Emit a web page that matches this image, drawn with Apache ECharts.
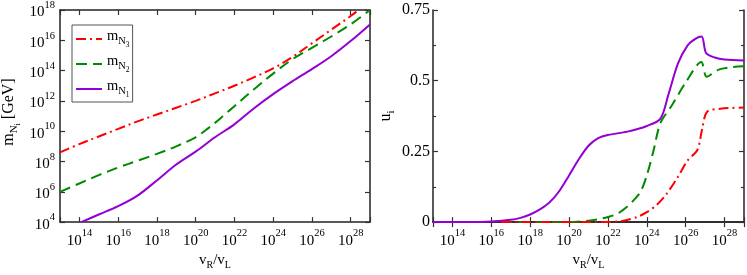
<!DOCTYPE html>
<html><head><meta charset="utf-8">
<script src="https://cdn.jsdelivr.net/npm/echarts@6/dist/echarts.min.js"></script>
<style>html,body{margin:0;padding:0;background:#fff}#c{width:747px;height:275px}</style>
</head><body><div id="c"></div>
<script>
// ---------- Left panel: log10(vR/vL) vs log10(m_Ni / GeV) ----------
const mN3_logx = [13, 14, 15, 16, 17, 18, 19, 20, 21, 22, 23, 24, 25, 26, 27, 28, 28.5];
const mN3_logm = [8.6, 9.15, 9.65, 10.15, 10.65, 11.1, 11.55, 12.0, 12.5, 13.0, 13.55, 14.15, 14.9, 15.8, 16.7, 17.6, 18.1];

const mN2_logx = [13, 14, 15, 16, 17, 18, 19, 20, 20.5, 21, 21.5, 22, 23, 24, 25, 26, 27, 28, 29];
const mN2_logm = [6.0, 6.55, 7.1, 7.6, 8.05, 8.5, 9.0, 9.6, 10.05, 10.55, 11.1, 11.65, 12.75, 13.8, 14.75, 15.5, 16.25, 17.05, 18.0];

const mN1_logx = [14.1, 15, 16, 17, 18, 19, 20, 21, 22, 23, 24, 25, 26, 27, 28, 29];
const mN1_logm = [4.0, 4.5, 5.05, 5.75, 6.75, 7.8, 8.65, 9.6, 10.45, 11.5, 12.45, 13.3, 14.1, 14.95, 15.95, 17.05];

// ---------- Right panel: log10(vR/vL) vs u_i ----------
const u1_logx = [13, 15, 16, 17, 17.5, 18, 18.5, 19, 19.5, 20, 20.5, 21, 21.5, 22, 23, 24, 24.7, 25.1, 25.6, 26.1, 26.5, 26.82, 27.05, 27.5, 28, 29];
const u1_val  = [0, 0, 0.002, 0.008, 0.015, 0.027, 0.045, 0.07, 0.11, 0.165, 0.222, 0.27, 0.297, 0.308, 0.32, 0.34, 0.366, 0.448, 0.56, 0.625, 0.648, 0.656, 0.598, 0.582, 0.575, 0.571];

const u2_logx = [16.5, 20, 21, 21.5, 22, 22.5, 23, 23.4, 23.7, 24, 24.35, 24.7, 25.3, 26, 26.8, 27.08, 27.7, 28.4, 29];
const u2_val  = [0, 0, 0.005, 0.01, 0.018, 0.03, 0.055, 0.083, 0.11, 0.165, 0.254, 0.35, 0.414, 0.494, 0.566, 0.514, 0.539, 0.548, 0.551];

const u3_logx = [16.5, 22, 22.8, 23.5, 24, 24.5, 25, 25.6, 26.1, 26.6, 26.85, 27.1, 27.8, 29];
const u3_val  = [0, 0, 0.005, 0.018, 0.035, 0.06, 0.098, 0.16, 0.218, 0.255, 0.33, 0.39, 0.401, 0.405];

// ---------- tick labels ----------
const uTickLabels = ['0', '0.25', '0.5', '0.75'];
const legendNames = ['N3', 'N2', 'N1'];

const FONT = "'Liberation Serif', 'Times New Roman', serif";
const RED = '#ff0000', GREEN = '#008a00', PURPLE = '#9400d3';

function zip(xs, ys) { return xs.map((x, i) => [x, ys[i]]); }
function ts(size, padTop) {
  return { fontFamily: FONT, fontSize: size, color: '#000', verticalAlign: 'top', padding: [padTop, 0, 0, 0] };
}

const powRich = { b: ts(15, 5), s: ts(10.5, 0) };
function powLabel(v) {
  const r = Math.round(v);
  if (Math.abs(v - r) > 1e-6 || r % 2 !== 0) return '';
  return '{b|10}{s|' + r + '}';
}

const axisLine = { show: true, lineStyle: { color: '#222', width: 1.5 } };
const tick = { show: true, inside: true, length: 5, lineStyle: { color: '#333', width: 1.2 } };

const xName = '{v|v}{s|R}{v|/v}{s|L}';
const xNameStyle = { fontFamily: FONT, color: '#000', rich: { v: ts(15, 0), s: ts(10, 7) } };

function xAxes(grid) {
  const base = { type: 'value', gridIndex: grid, min: 13, max: 29, splitNumber: 8, splitLine: { show: false }, axisLine: axisLine, axisTick: tick };
  return [
    Object.assign({}, base, {
      position: 'bottom',
      axisLabel: { show: true, margin: 6, formatter: powLabel, rich: powRich, fontFamily: FONT },
      name: xName, nameLocation: 'middle', nameGap: 26, nameTextStyle: xNameStyle
    }),
    Object.assign({}, base, { position: 'top', axisLabel: { show: false } })
  ];
}

const option = {
  backgroundColor: '#fff',
  animation: false,
  grid: [
    { left: 57, top: 10, width: 313, height: 219, containLabel: false },
    { left: 433, top: 10, width: 313, height: 219, containLabel: false }
  ],
  xAxis: [].concat(xAxes(0), xAxes(1)),
  yAxis: [
    {
      type: 'value', gridIndex: 0, position: 'left', min: 4, max: 18, splitNumber: 7,
      splitLine: { show: false }, axisLine: axisLine, axisTick: tick,
      axisLabel: { show: true, margin: 5, formatter: powLabel, rich: powRich, fontFamily: FONT },
      name: '{m|m}{n|N}{k|i}{m| [GeV]}', nameLocation: 'middle', nameRotate: 90, nameGap: 38,
      nameTextStyle: {
        fontFamily: FONT, color: '#000', padding: [0, 0, 0, 8],
        rich: { m: ts(16, 0), n: ts(11, 8), k: ts(8, 13) }
      }
    },
    {
      type: 'value', gridIndex: 0, position: 'right', min: 4, max: 18, splitNumber: 7,
      splitLine: { show: false }, axisLine: axisLine, axisTick: tick, axisLabel: { show: false }
    },
    {
      type: 'value', gridIndex: 1, position: 'left', min: 0, max: 0.75, interval: 0.25,
      splitLine: { show: false }, axisLine: axisLine, axisTick: tick,
      minorTick: { show: true, splitNumber: 2, length: 3, lineStyle: { color: '#333', width: 1.2 } },
      axisLabel: {
        show: true, margin: 3, fontFamily: FONT, fontSize: 16, color: '#000',
        formatter: (v) => uTickLabels[Math.round(v / 0.25)]
      },
      name: '{u|u}{s|i}', nameLocation: 'middle', nameRotate: 90, nameGap: 36,
      nameTextStyle: { fontFamily: FONT, color: '#000', rich: { u: ts(16, 0), s: ts(11, 8) } }
    },
    {
      type: 'value', gridIndex: 1, position: 'right', min: 0, max: 0.75, interval: 0.25,
      splitLine: { show: false }, axisLine: axisLine, axisTick: tick,
      minorTick: { show: true, splitNumber: 2, length: 3, lineStyle: { color: '#333', width: 1.2 } },
      axisLabel: { show: false }
    }
  ],
  legend: {
    data: legendNames,
    orient: 'vertical', left: 72, top: 25,
    padding: [4, 3, 3, 3], itemGap: 5, itemWidth: 26, itemHeight: 12,
    borderColor: '#555', borderWidth: 1, borderRadius: 0, backgroundColor: '#fff',
    selectedMode: false,
    itemStyle: { opacity: 0, borderWidth: 0 },
    formatter: (name) => '{m|m}{n|N}{k|' + name.slice(1) + '}',
    textStyle: { fontFamily: FONT, color: '#000', rich: { m: ts(14.5, 0), n: ts(10.5, 7), k: ts(7.5, 12) } }
  },
  series: [
    { name: 'N1', type: 'line', xAxisIndex: 0, yAxisIndex: 0, data: zip(mN1_logx, mN1_logm), showSymbol: false, symbol: 'none', smooth: 0.35, lineStyle: { color: PURPLE, width: 2 }, itemStyle: { color: PURPLE } },
    { name: 'N2', type: 'line', xAxisIndex: 0, yAxisIndex: 0, data: zip(mN2_logx, mN2_logm), showSymbol: false, symbol: 'none', smooth: 0.35, lineStyle: { color: GREEN, width: 2, type: [11, 6] }, itemStyle: { color: GREEN } },
    { name: 'N3', type: 'line', xAxisIndex: 0, yAxisIndex: 0, data: zip(mN3_logx, mN3_logm), showSymbol: false, symbol: 'none', smooth: 0.35, lineStyle: { color: RED, width: 2, type: [10, 4, 2, 4] }, itemStyle: { color: RED } },
    { name: 'N1', type: 'line', xAxisIndex: 2, yAxisIndex: 2, data: zip(u1_logx, u1_val), showSymbol: false, symbol: 'none', smooth: 0.3, lineStyle: { color: PURPLE, width: 2 }, itemStyle: { color: PURPLE } },
    { name: 'N2', type: 'line', xAxisIndex: 2, yAxisIndex: 2, data: zip(u2_logx, u2_val), showSymbol: false, symbol: 'none', smooth: 0.3, lineStyle: { color: GREEN, width: 2, type: [11, 6] }, itemStyle: { color: GREEN } },
    { name: 'N3', type: 'line', xAxisIndex: 2, yAxisIndex: 2, data: zip(u3_logx, u3_val), showSymbol: false, symbol: 'none', smooth: 0.3, lineStyle: { color: RED, width: 2, type: [10, 4, 2, 4] }, itemStyle: { color: RED } }
  ]
};

const chart = echarts.init(document.getElementById('c'), null, { renderer: 'canvas' });
chart.setOption(option);
</script>
</body></html>
